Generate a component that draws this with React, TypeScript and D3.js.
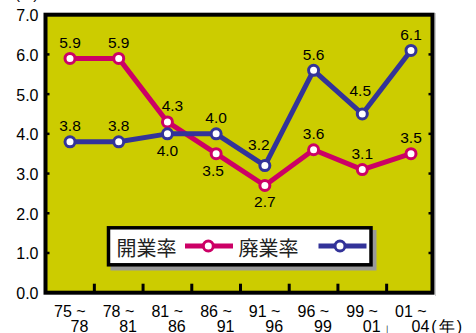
import React from 'react';
import * as d3 from 'd3';

const categoriesTop = ['75 ~', '78 ~', '81 ~', '86 ~', '91 ~', '96 ~', '99 ~', '01 ~'];
const categoriesBottom = ['78', '81', '86', '91', '96', '99', '01」', '04(年)'];
const openRate = [5.9, 5.9, 4.3, 3.5, 2.7, 3.6, 3.1, 3.5];
const closeRate = [3.8, 3.8, 4.0, 4.0, 3.2, 5.6, 4.5, 6.1];
const openLabelSide = ['above', 'above', 'above', 'below', 'below', 'above', 'above', 'above'];
const closeLabelSide = ['above', 'above', 'below', 'above', 'above', 'above', 'above', 'above'];
const yTicks = [0, 1, 2, 3, 4, 5, 6, 7];
const seriesNames = ['開業率', '廃業率'];
const unitLabel = '(%)';

// small manual label nudges (style only): [dx, dy]
const openLabelNudge: [number, number][] = [[0, 0], [0, 0], [5, 0], [-3, 0], [0, 0], [0, 0], [0, 0], [0, 0]];
const closeLabelNudge: [number, number][] = [[0, 0], [0, 0], [0, 0], [0, 0], [-6, -5], [0, 0], [-2, -7], [0, 0]];

const PINK = '#CC0066';
const BLUE = '#333399';
const BG = '#CCCC00';
const NUM_FONT = '"Liberation Sans", Arial, sans-serif';
const CJK_FONT = '"Noto Sans CJK JP", "Noto Sans", sans-serif';

function BottomLabel({ label, x, y }: { label: string; x: number; y: number }) {
  const m = label.match(/^(\d+)(\(.*\))$/);
  if (!m) {
    return (
      <text x={x} y={y}>
        {label}
      </text>
    );
  }
  return (
    <text x={x} y={y}>
      <tspan>{m[1]}</tspan>
      <tspan dx={2} letterSpacing={2}>
        {m[2]}
      </tspan>
    </text>
  );
}

export default function App() {
  const idx = d3.range(categoriesTop.length);
  const x = d3.scalePoint<number>().domain(idx).range([70, 411]);
  const y = d3.scaleLinear().domain([0, 7]).range([292.7, 14.7]);
  const line = d3
    .line<number>()
    .x((_, i) => x(i) as number)
    .y((d) => y(d));

  const plotL = 45.5, plotR = 432.5;
  const tickXs = idx.slice(0, -1).map((i) => ((x(i) as number) + (x(i + 1) as number)) / 2);

  const series = [
    { data: openRate, color: PINK, sides: openLabelSide, nudge: openLabelNudge },
    { data: closeRate, color: BLUE, sides: closeLabelSide, nudge: closeLabelNudge },
  ];

  return (
    <svg
      width={476}
      height={333}
      style={{ position: 'absolute', left: 0, top: 0, background: '#fff' }}
    >
      <text x={15} y={-1} fontFamily={NUM_FONT} fontSize={15} fill="#000">
        {unitLabel}
      </text>
      {/* plot frame */}
      <line x1={435.5} x2={435.5} y1={13} y2={296} stroke="#ccc" strokeWidth={1} />
      <rect
        x={plotL}
        y={y(7)}
        width={plotR - plotL}
        height={y(0) - y(7)}
        fill={BG}
        stroke="#000"
        strokeWidth={4}
      />
      {/* bottom ticks */}
      {tickXs.map((tx, i) => (
        <line key={'bt' + i} x1={tx} x2={tx} y1={y(0) - 9} y2={y(0)} stroke="#000" strokeWidth={3} />
      ))}
      {/* side ticks */}
      {yTicks.slice(1, -1).map((t) => (
        <g key={'st' + t}>
          <line x1={plotR - 4} x2={plotR} y1={y(t)} y2={y(t)} stroke="#000" strokeWidth={2.5} />
          <line x1={plotL} x2={plotL + 4} y1={y(t)} y2={y(t)} stroke="#000" strokeWidth={2.5} />
        </g>
      ))}
      {/* y labels */}
      {yTicks.map((t) => (
        <text
          key={'yl' + t}
          x={38.5}
          y={y(t) + 1}
          textAnchor="end"
          dominantBaseline="central"
          fontFamily={NUM_FONT}
          fontSize={16}
          fill="#000"
        >
          {t.toFixed(1)}
        </text>
      ))}
      {/* x labels */}
      {idx.map((i) => (
        <g key={'xl' + i} fontFamily={NUM_FONT} fontSize={16} fill="#000">
          <text x={(x(i) as number) - 16} y={316.5}>
            {categoriesTop[i]}
          </text>
          <BottomLabel label={categoriesBottom[i]} x={(x(i) as number) + 0.5} y={331.5} />
        </g>
      ))}
      {/* series lines */}
      {series.map((s, k) => (
        <path key={'ln' + k} d={line(s.data) || ''} fill="none" stroke={s.color} strokeWidth={5} strokeLinejoin="round" />
      ))}
      {series.map((s, k) =>
        s.data.map((v, i) => (
          <circle key={'pt' + k + '-' + i} cx={x(i) as number} cy={y(v)} r={5} fill="#fff" stroke={s.color} strokeWidth={3} />
        ))
      )}
      {/* value labels */}
      {series.map((s, k) =>
        s.data.map((v, i) => (
          <text
            key={'vl' + k + '-' + i}
            x={(x(i) as number) + s.nudge[i][0]}
            y={(s.sides[i] === 'above' ? y(v) - 10.5 : y(v) + 22) + s.nudge[i][1]}
            textAnchor="middle"
            fontFamily={NUM_FONT}
            fontSize={15.5}
            fill="#000"
          >
            {v.toFixed(1)}
          </text>
        ))
      )}
      {/* legend */}
      <rect x={110.5} y={230} width={266} height={40.5} fill="#999" />
      <rect x={108.5} y={227.8} width={262.5} height={37} fill="#fff" stroke="#000" strokeWidth={3.5} />
      <text x={116.5} y={247.5} dominantBaseline="central" fontFamily={CJK_FONT} fontSize={20} fill="#222">
        {seriesNames[0]}
      </text>
      <line x1={185} x2={233} y1={246} y2={246} stroke={PINK} strokeWidth={5} />
      <circle cx={208.3} cy={246} r={5} fill="#fff" stroke={PINK} strokeWidth={3} />
      <text x={238.5} y={247.5} dominantBaseline="central" fontFamily={CJK_FONT} fontSize={20} fill="#222">
        {seriesNames[1]}
      </text>
      <line x1={318.5} x2={366.5} y1={246} y2={246} stroke={BLUE} strokeWidth={5} />
      <circle cx={340} cy={246} r={5} fill="#fff" stroke={BLUE} strokeWidth={3} />
    </svg>
  );
}
